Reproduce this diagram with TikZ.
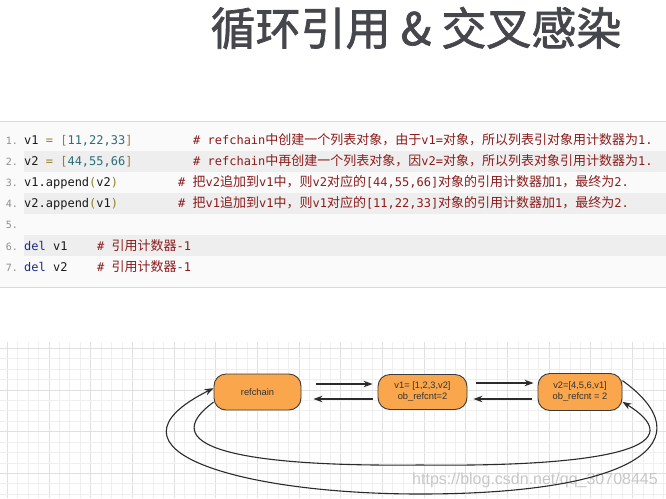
\documentclass[tikz,border=0pt]{standalone}
\usepackage{fontspec}
\usetikzlibrary{arrows.meta}
\newfontfamily\cjkf{Noto Sans CJK SC}
\newfontfamily\titlef[FakeBold=1.6]{Noto Sans CJK SC}
\newfontfamily\monof{DejaVu Sans Mono}
\newfontfamily\lsans{Liberation Sans}
\definecolor{titlec}{HTML}{46474D}
\definecolor{opc}{HTML}{94802E}
\definecolor{numc}{HTML}{2A6E78}
\definecolor{kwc}{HTML}{1E2A8A}
\definecolor{cmtc}{HTML}{8B1C1C}
\definecolor{lnc}{HTML}{8E8E8E}
\definecolor{codec}{HTML}{1A1A1A}
\definecolor{rowc}{HTML}{EEEEEE}
\definecolor{blockc}{HTML}{FAFAFA}
\definecolor{borderc}{HTML}{DADADA}
\definecolor{gridminor}{HTML}{EFEFEF}
\definecolor{gridmajor}{HTML}{E0E0E0}
\definecolor{nodefill}{HTML}{F9A64C}
\definecolor{nodeline}{HTML}{3A3A3A}
\definecolor{linec}{HTML}{2B2B2B}
\newcommand\zh[1]{{\cjkf\fontsize{13}{13}\selectfont #1}}
\newcommand\cop[1]{\textcolor{opc}{#1}}
\newcommand\cnum[1]{\textcolor{numc}{#1}}
\newcommand\ckw[1]{\textcolor{kwc}{#1}}
\begin{document}
\begin{tikzpicture}[x=1pt,y=-1pt,
  code/.style={anchor=base west,inner sep=0pt,text=codec,font=\monof\fontsize{12}{12}\selectfont},
  cmt/.style={anchor=base west,inner sep=0pt,text=cmtc,font=\monof\fontsize{12}{12}\selectfont},
  lnum/.style={anchor=base east,inner sep=0pt,text=lnc,font=\monof\fontsize{10}{10}\selectfont},
  obj/.style={draw=nodeline,line width=0.9pt,fill=nodefill,rounded corners=12pt,inner sep=0pt,
    align=center,text=black!80,font=\lsans\fontsize{9.3}{11}\selectfont},
  arr/.style={draw=linec,line width=1.1pt,-{Stealth[length=9pt,width=6.5pt]}}]
\useasboundingbox (0,0) rectangle (666,498);
\fill[white] (0,0) rectangle (666,498);
% title
\node[font=\titlef\fontsize{45}{45}\selectfont,text=titlec,inner sep=0pt] (title) at (416,28) {循环引用 \& 交叉感染};
% code block
\fill[blockc] (0,121) rectangle (666,287);
\draw[borderc,line width=0.8pt] (0,121) -- (666,121);
\draw[borderc,line width=0.8pt] (0,287) -- (666,287);
\foreach \r in {2,4,6} {
  \fill[rowc] (24,{140+(\r-1)*21.1-10.5}) rectangle (666,{140+(\r-1)*21.1+10.5});
}
\foreach \r in {1,...,7} {
  \node[lnum] (ln\r) at (18,{140+(\r-1)*21.1+4.5}) {\r.};
}
\node[code] (c1) at (24,144.5) {v1 \cop{=} \cop{[}\cnum{11,22,33}\cop{]}};
\node[code] (c2) at (24,165.6) {v2 \cop{=} \cop{[}\cnum{44,55,66}\cop{]}};
\node[code] (c3) at (24,186.7) {v1.append\cop{(}v2\cop{)}};
\node[code] (c4) at (24,207.8) {v2.append\cop{(}v1\cop{)}};
\node[code] (c6) at (24,250.0) {\ckw{del} v1};
\node[code] (c7) at (24,271.1) {\ckw{del} v2};
\node[cmt] (m1) at (193,144.5) {\# refchain\zh{中创建一个列表对象，由于}v1=\zh{对象，所以列表引对象用计数器为}1.};
\node[cmt] (m2) at (193,165.6) {\# refchain\zh{中再创建一个列表对象，因}v2=\zh{对象，所以列表对象引用计数器为}1.};
\node[cmt] (m3) at (178,186.7) {\# \zh{把}v2\zh{追加到}v1\zh{中，则}v2\zh{对应的}[44,55,66]\zh{对象的引用计数器加}1\zh{，最终为}2.};
\node[cmt] (m4) at (178,207.8) {\# \zh{把}v1\zh{追加到}v1\zh{中，则}v1\zh{对应的}[11,22,33]\zh{对象的引用计数器加}1\zh{，最终为}2.};
\node[cmt] (m6) at (97,250.0) {\# \zh{引用计数器}-1};
\node[cmt] (m7) at (97,271.1) {\# \zh{引用计数器}-1};
% grid
\foreach \i in {0,...,63} {
  \pgfmathtruncatemacro{\md}{mod(\i,4)}
  \ifnum\md=0
    \draw[gridmajor,line width=0.7pt] ({7.3+\i*10.42},342) -- ({7.3+\i*10.42},498);
  \else
    \draw[gridminor,line width=0.7pt] ({7.3+\i*10.42},342) -- ({7.3+\i*10.42},498);
  \fi
}
\foreach \j in {0,...,14} {
  \pgfmathtruncatemacro{\md}{mod(\j,4)}
  \ifnum\md=0
    \draw[gridmajor,line width=0.7pt] (0,{348.3+\j*10.42}) -- (666,{348.3+\j*10.42});
  \else
    \draw[gridminor,line width=0.7pt] (0,{348.3+\j*10.42}) -- (666,{348.3+\j*10.42});
  \fi
}
% watermark
\node[font=\lsans\fontsize{16}{16}\selectfont,text=black!22,inner sep=0pt] (wm) at (535,480) {https://blog.csdn.net/qq\_30708445};
% nodes
\node[obj,minimum width=87pt,minimum height=36pt] (refchain) at (257.5,392) {refchain};
\node[obj,minimum width=89pt,minimum height=35pt] (v1) at (422.5,392) {v1= [1,2,3,v2]\\ob\_refcnt=2};
\node[obj,minimum width=84pt,minimum height=37pt] (v2) at (580,392) {v2=[4,5,6,v1]\\ob\_refcnt = 2};
% straight arrows
\draw[arr] ([xshift=15pt,yshift=8pt]refchain.east) -- ([xshift=-5pt,yshift=8pt]v1.west);
\draw[arr] ([xshift=-5pt,yshift=-7pt]v1.west) -- ([xshift=12pt,yshift=-7pt]refchain.east);
\draw[arr] ([xshift=9pt,yshift=9pt]v1.east) -- ([xshift=-4pt,yshift=9pt]v2.west);
\draw[arr] ([xshift=-6pt,yshift=-7pt]v2.west) -- ([xshift=6pt,yshift=-7pt]v1.east);
% curved arrows
\coordinate (ob) at (420,494);
\coordinate (ib) at (420,465);
\draw[arr] (v2.15) .. controls (705,440) and (640,494) .. (ob)
  .. controls (240,494) and (90,450) .. (refchain.175);
\draw[arr] (refchain.193) .. controls (155,445) and (230,467) .. (ib)
  .. controls (590,467) and (700,450) .. (v2.-13);
\end{tikzpicture}
\end{document}
